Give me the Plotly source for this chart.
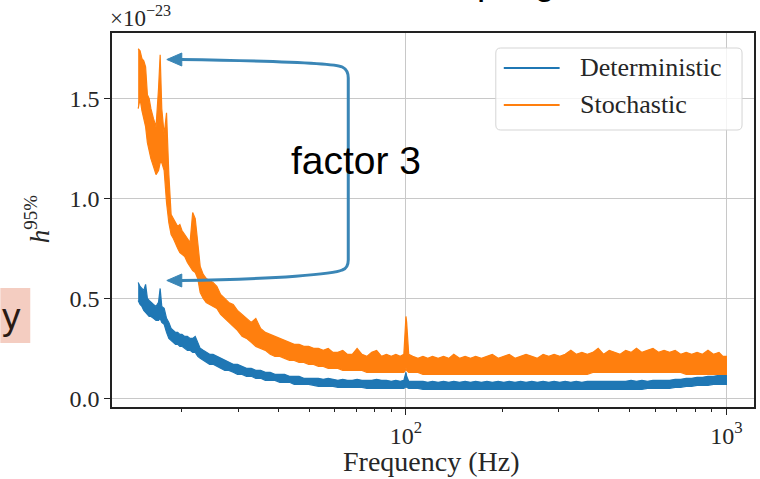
import plotly.graph_objects as go

# ---------------- data (values in units of 1e-23) ----------------
freq_hz = [14.6, 14.8, 15.0, 15.2, 15.4, 15.6, 15.8, 16.0, 16.3, 16.6,
           16.9, 17.1, 17.3, 17.6, 17.9, 18.2, 18.5, 18.8, 19.1, 19.4,
           19.7, 20.0, 20.4, 20.8, 21.2, 21.6, 22.0, 22.4, 22.8, 23.3,
           23.8, 24.4, 25.0, 25.7, 26.4, 27.2, 28.0, 28.9, 29.8, 30.8,
           31.8, 32.9, 34.0, 35.2, 36.4, 37.7, 39.0, 40.4, 41.8, 43.3,
           44.8, 46.4, 48.0, 49.7, 51.5, 53.3, 55.2, 57.2, 59.2, 61.3,
           63.5, 65.7, 68.0, 70.4, 72.9, 75.5, 78.2, 81.0, 83.9, 86.9,
           90.0, 93.0, 96.0, 98.5, 99.5, 100.0, 100.5, 102, 105, 109,
           113, 117, 121, 126, 131, 136, 141, 147, 153, 159,
           165, 172, 179, 186, 194, 202, 210, 219, 228, 237,
           247, 257, 268, 279, 290, 302, 314, 327, 340, 354,
           368, 383, 398, 414, 431, 448, 466, 485, 504, 524,
           545, 567, 590, 614, 639, 665, 692, 720, 749, 779,
           810, 842, 876, 911, 948, 975, 1000]

stochastic_upper = [1.75, 1.74, 1.70, 1.69, 1.66, 1.52, 1.50, 1.45, 1.40, 1.36,
                    1.55, 1.72, 1.45, 1.32, 1.43, 1.12, 0.92, 0.90, 0.88, 0.86,
                    0.87, 0.84, 0.82, 0.80, 0.78, 0.93, 0.90, 0.78, 0.66, 0.62,
                    0.60, 0.59, 0.58, 0.56, 0.52, 0.50, 0.48, 0.47, 0.44, 0.42,
                    0.40, 0.38, 0.40, 0.35, 0.33, 0.32, 0.31, 0.30, 0.29, 0.28,
                    0.27, 0.27, 0.26, 0.26, 0.25, 0.25, 0.24, 0.25, 0.23, 0.23,
                    0.24, 0.22, 0.22, 0.25, 0.22, 0.21, 0.23, 0.24, 0.21, 0.22,
                    0.21, 0.22, 0.21, 0.22, 0.40, 0.41, 0.38, 0.22, 0.21, 0.20,
                    0.21, 0.20, 0.21, 0.20, 0.21, 0.20, 0.22, 0.20, 0.21, 0.20,
                    0.21, 0.20, 0.21, 0.22, 0.20, 0.21, 0.22, 0.20, 0.21, 0.22,
                    0.21, 0.20, 0.22, 0.21, 0.22, 0.21, 0.22, 0.24, 0.22, 0.23,
                    0.22, 0.23, 0.25, 0.22, 0.24, 0.23, 0.22, 0.24, 0.23, 0.25,
                    0.23, 0.24, 0.25, 0.23, 0.24, 0.23, 0.24, 0.22, 0.23, 0.22,
                    0.23, 0.22, 0.24, 0.22, 0.23, 0.21, 0.21]

stochastic_lower = [1.45, 1.50, 1.44, 1.40, 1.36, 1.28, 1.24, 1.20, 1.16, 1.12,
                    1.14, 1.18, 1.18, 1.14, 0.98, 0.88, 0.82, 0.80, 0.78, 0.75,
                    0.73, 0.72, 0.71, 0.68, 0.66, 0.64, 0.63, 0.60, 0.53, 0.50,
                    0.48, 0.47, 0.46, 0.45, 0.42, 0.40, 0.38, 0.36, 0.34, 0.31,
                    0.30, 0.28, 0.26, 0.25, 0.24, 0.22, 0.21, 0.21, 0.20, 0.19,
                    0.19, 0.18, 0.18, 0.17, 0.17, 0.16, 0.16, 0.15, 0.15, 0.15,
                    0.14, 0.14, 0.14, 0.14, 0.14, 0.13, 0.13, 0.13, 0.13, 0.13,
                    0.13, 0.13, 0.13, 0.13, 0.14, 0.15, 0.14, 0.13, 0.13, 0.13,
                    0.12, 0.12, 0.12, 0.12, 0.12, 0.12, 0.12, 0.12, 0.12, 0.12,
                    0.12, 0.12, 0.12, 0.12, 0.12, 0.12, 0.12, 0.12, 0.12, 0.12,
                    0.12, 0.12, 0.12, 0.12, 0.12, 0.12, 0.12, 0.12, 0.12, 0.12,
                    0.12, 0.13, 0.13, 0.13, 0.13, 0.13, 0.13, 0.13, 0.13, 0.13,
                    0.13, 0.13, 0.13, 0.13, 0.13, 0.13, 0.13, 0.13, 0.12, 0.12,
                    0.12, 0.12, 0.12, 0.12, 0.12, 0.12, 0.12]

deterministic_upper = [0.58, 0.56, 0.55, 0.54, 0.57, 0.50, 0.49, 0.48, 0.47, 0.46,
                       0.48, 0.55, 0.46, 0.45, 0.40, 0.38, 0.35, 0.34, 0.33, 0.33,
                       0.32, 0.32, 0.31, 0.31, 0.30, 0.30, 0.31, 0.28, 0.25, 0.24,
                       0.23, 0.22, 0.22, 0.21, 0.20, 0.19, 0.18, 0.17, 0.17, 0.16,
                       0.15, 0.15, 0.14, 0.14, 0.13, 0.13, 0.12, 0.12, 0.12, 0.11,
                       0.11, 0.11, 0.10, 0.10, 0.10, 0.10, 0.095, 0.10, 0.095, 0.09,
                       0.095, 0.09, 0.09, 0.095, 0.09, 0.09, 0.09, 0.095, 0.09, 0.09,
                       0.085, 0.09, 0.085, 0.09, 0.12, 0.13, 0.11, 0.085, 0.085, 0.085,
                       0.085, 0.08, 0.085, 0.08, 0.085, 0.08, 0.085, 0.08, 0.085, 0.08,
                       0.085, 0.08, 0.085, 0.08, 0.085, 0.08, 0.085, 0.08, 0.085, 0.08,
                       0.085, 0.08, 0.085, 0.08, 0.085, 0.08, 0.085, 0.08, 0.085, 0.08,
                       0.085, 0.085, 0.085, 0.085, 0.085, 0.085, 0.085, 0.085, 0.09, 0.085,
                       0.09, 0.085, 0.09, 0.09, 0.09, 0.09, 0.095, 0.095, 0.10, 0.10,
                       0.105, 0.105, 0.11, 0.11, 0.115, 0.115, 0.12]

deterministic_lower = [0.49, 0.47, 0.46, 0.44, 0.43, 0.42, 0.41, 0.41, 0.40, 0.39,
                       0.39, 0.40, 0.38, 0.37, 0.33, 0.30, 0.29, 0.28, 0.27, 0.27,
                       0.26, 0.26, 0.25, 0.24, 0.24, 0.23, 0.23, 0.21, 0.20, 0.19,
                       0.18, 0.17, 0.17, 0.16, 0.15, 0.14, 0.14, 0.13, 0.12, 0.12,
                       0.11, 0.11, 0.10, 0.10, 0.09, 0.09, 0.09, 0.08, 0.08, 0.08,
                       0.07, 0.07, 0.07, 0.07, 0.065, 0.06, 0.06, 0.06, 0.06, 0.055,
                       0.055, 0.055, 0.055, 0.055, 0.055, 0.05, 0.05, 0.05, 0.05, 0.05,
                       0.05, 0.05, 0.05, 0.05, 0.055, 0.06, 0.055, 0.05, 0.05, 0.05,
                       0.045, 0.045, 0.045, 0.045, 0.045, 0.045, 0.045, 0.045, 0.045, 0.045,
                       0.045, 0.045, 0.045, 0.045, 0.045, 0.045, 0.045, 0.045, 0.045, 0.045,
                       0.045, 0.045, 0.045, 0.045, 0.045, 0.045, 0.045, 0.045, 0.045, 0.045,
                       0.045, 0.045, 0.045, 0.045, 0.045, 0.045, 0.045, 0.045, 0.045, 0.045,
                       0.045, 0.05, 0.05, 0.05, 0.05, 0.05, 0.055, 0.055, 0.06, 0.06,
                       0.065, 0.065, 0.065, 0.07, 0.07, 0.07, 0.07]

series_names = ["Deterministic", "Stochastic"]
series_colors = ["#1f77b4", "#ff7f0e"]
y_tick_vals = [0.0, 0.5, 1.0, 1.5]
y_tick_text = ["0.0", "0.5", "1.0", "1.5"]
x_tick_vals = [100, 1000]
x_tick_text = ["10<sup>2</sup>", "10<sup>3</sup>"]
x_minor_vals = [20, 30, 40, 50, 60, 70, 80, 90, 200, 300, 400, 500, 600, 700, 800, 900]

# ---------------- geometry helpers ----------------
W, H = 760, 479
ML, MR, MT, MB = 112, 4, 33, 72
PW = W - ML - MR
PH = H - MT - MB


def px(x):
    return (x - ML) / PW


def py(y):
    return (H - MB - y) / PH


def path(cmds):
    out = []
    for c in cmds:
        if isinstance(c, str):
            out.append(c)
        else:
            out.append(f"{px(c[0]):.5f},{py(c[1]):.5f}")
    return " ".join(out)


SERIF = "Liberation Serif"
SANS = "Liberation Sans"
TXT = "#262626"
ARROW = "#3a86b6"

fig = go.Figure()
bands = [(deterministic_upper, deterministic_lower), (stochastic_upper, stochastic_lower)]
for name, color, (up, lo) in zip(series_names, series_colors, bands):
    fig.add_trace(go.Scatter(
        x=freq_hz + freq_hz[::-1], y=up + lo[::-1],
        mode="lines", fill="toself", fillcolor=color,
        line=dict(color=color, width=1.2), name=name,
        showlegend=False, hoverinfo="skip"))

shapes = []
annotations = []

# legend box (manual, matplotlib-like)
lx0, lx1, ly0, ly1, r = 497, 744, 48, 130, 5
shapes.append(dict(
    type="path", xref="paper", yref="paper", layer="above",
    path=path(["M", (lx0 + r, ly0), "L", (lx1 - r, ly0), "Q", (lx1, ly0), (lx1, ly0 + r),
               "L", (lx1, ly1 - r), "Q", (lx1, ly1), (lx1 - r, ly1),
               "L", (lx0 + r, ly1), "Q", (lx0, ly1), (lx0, ly1 - r),
               "L", (lx0, ly0 + r), "Q", (lx0, ly0), (lx0 + r, ly0), "Z"]),
    fillcolor="rgba(255,255,255,0.8)", line=dict(color="#d5d5d5", width=1)))
for i, (name, color) in enumerate(zip(series_names, series_colors)):
    yy = 68 + i * 37
    shapes.append(dict(type="line", xref="paper", yref="paper", layer="above",
                       x0=px(505), x1=px(561), y0=py(yy), y1=py(yy),
                       line=dict(color=color, width=2)))
    annotations.append(dict(xref="paper", yref="paper", x=px(579), y=py(yy - 1),
                            xanchor="left", yanchor="middle", showarrow=False,
                            text=name, font=dict(family=SERIF, size=26, color=TXT)))

# bracket arrow "factor 3"
shapes.append(dict(
    type="path", xref="paper", yref="paper", layer="above",
    path=path(["M", (181, 59.5), "C", (280, 61), (335, 63), (343, 67),
               "Q", (349, 70), (349, 78), "L", (349, 260),
               "Q", (349, 268), (343, 270), "C", (335, 274), (280, 279), (181, 280.5)]),
    line=dict(color=ARROW, width=3)))
for yy in (59.5, 280.5):
    shapes.append(dict(
        type="path", xref="paper", yref="paper", layer="above",
        path=path(["M", (167, yy), "L", (182, yy - 6.5), "L", (182, yy + 6.5), "Z"]),
        fillcolor=ARROW, line=dict(color=ARROW, width=1)))
annotations.append(dict(xref="paper", yref="paper", x=px(357), y=py(160),
                        xanchor="center", yanchor="middle", showarrow=False,
                        text="factor 3", font=dict(family=SANS, size=39, color="#000000")))

# offset text and y label
annotations.append(dict(xref="paper", yref="paper", x=px(108), y=py(33),
                        xanchor="left", yanchor="bottom", showarrow=False,
                        text="×10<sup>−23</sup>", font=dict(family=SERIF, size=23, color=TXT)))
annotations.append(dict(xref="paper", yref="paper", x=px(37), y=py(219),
                        xanchor="center", yanchor="middle", showarrow=False, textangle=-90,
                        text="<i>h</i><sup>95%</sup>", font=dict(family=SERIF, size=27, color=TXT)))
annotations.append(dict(xref="paper", yref="paper", x=px(432), y=py(462),
                        xanchor="center", yanchor="middle", showarrow=False,
                        text="Frequency (Hz)", font=dict(family=SERIF, size=28, color=TXT)))

# slide fragments around the figure (cut off by the screenshot edges)
shapes.append(dict(type="rect", xref="paper", yref="paper", layer="above",
                   x0=px(0), x1=px(30), y0=py(288), y1=py(343),
                   fillcolor="#f4cdc1", line=dict(width=0)))
annotations.append(dict(xref="paper", yref="paper", x=px(22), y=py(316),
                        xanchor="right", yanchor="middle", showarrow=False, borderpad=0,
                        text="y", font=dict(family=SANS, size=37, color="#2a1a14")))
annotations.append(dict(xref="paper", yref="paper", x=px(407), y=py(3),
                        xanchor="left", yanchor="bottom", showarrow=False, borderpad=0,
                        text="sampling", font=dict(family=SANS, size=37, color="#000000")))

fig.update_layout(
    width=W, height=H,
    margin=dict(l=ML, r=MR, t=MT, b=MB),
    paper_bgcolor="white", plot_bgcolor="white",
    showlegend=False,
    shapes=shapes, annotations=annotations,
    xaxis=dict(type="log", range=[1.0827, 3.0861],
               tickvals=x_tick_vals, ticktext=x_tick_text,
               ticks="outside", ticklen=6, tickwidth=1.2, tickcolor="#222",
               showgrid=True, gridcolor="#c8c8c8", gridwidth=1,
               showline=True, linecolor="#222", linewidth=1.5, mirror=True,
               zeroline=False,
               tickfont=dict(family=SERIF, size=24, color=TXT),
               minor=dict(tickvals=x_minor_vals, ticks="outside", ticklen=3.5,
                          tickwidth=1, tickcolor="#222", showgrid=False)),
    yaxis=dict(range=[-0.0436, 1.829],
               tickvals=y_tick_vals, ticktext=y_tick_text,
               ticks="outside", ticklen=6, tickwidth=1.2, tickcolor="#222",
               showgrid=True, gridcolor="#c8c8c8", gridwidth=1,
               showline=True, linecolor="#222", linewidth=1.5, mirror=True,
               zeroline=False,
               tickfont=dict(family=SERIF, size=24, color=TXT)),
)

fig.write_html("out.html")
